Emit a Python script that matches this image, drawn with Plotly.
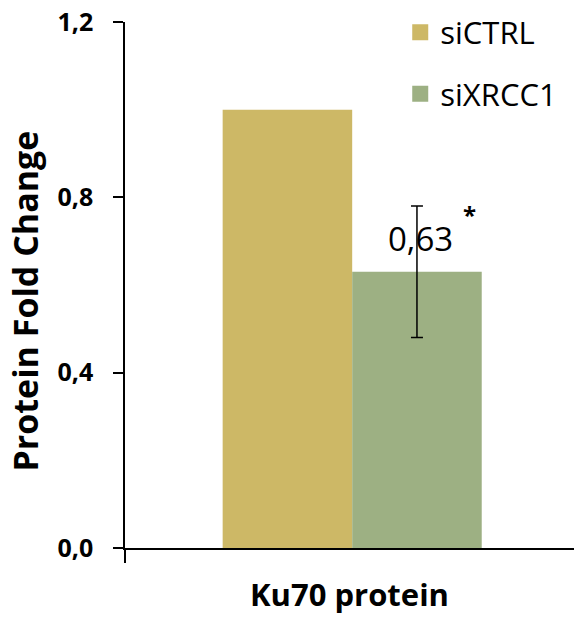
import plotly.graph_objects as go

categories = ["Ku70 protein"]
series_names = ["siCTRL", "siXRCC1"]
siCTRL_values = [1.0]
siXRCC1_values = [0.63]
siXRCC1_error = [0.15]
y_ticks = [0.0, 0.4, 0.8, 1.2]
y_title = "Protein Fold Change"
colors = ["#CDB866", "#9DB083"]

x_pos = [0]
FONT = "Open Sans, sans-serif"

fig = go.Figure()
fig.add_trace(go.Bar(x=x_pos, y=siCTRL_values, name=series_names[0], showlegend=False,
                     marker=dict(color=colors[0], line=dict(width=0))))
fig.add_trace(go.Bar(x=x_pos, y=siXRCC1_values, name=series_names[1], showlegend=False,
                     marker=dict(color=colors[1], line=dict(width=0)),
                     error_y=dict(type="data", array=siXRCC1_error, color="black",
                                  thickness=1.5, width=6)))
# legend entries (square swatches)
for name, col, grp in zip(series_names, colors, ["a", "b"]):
    fig.add_trace(go.Scatter(x=[None], y=[None], mode="markers", name=name, legendgroup=grp,
                             marker=dict(symbol="square", size=20, color=col)))

fig.add_annotation(x=0.152, y=0.707, xref="x", yref="y",
                   text="0,63", showarrow=False, font=dict(size=33, color="black", family=FONT))
fig.add_annotation(x=0.262, y=0.76, xref="x", yref="y",
                   text="<b>*</b>", showarrow=False, font=dict(size=24, color="black", family=FONT))
# y-axis title (placed like the reference, slightly below axis centre)
fig.add_annotation(x=-0.2227, y=0.4686, xref="paper", yref="paper", textangle=-90,
                   xanchor="center", yanchor="middle",
                   text="<b>" + y_title + "</b>", showarrow=False,
                   font=dict(size=34, color="black", family=FONT))

fig.update_layout(
    width=574, height=617,
    margin=dict(l=125, r=0, t=22, b=69),
    paper_bgcolor="white", plot_bgcolor="white",
    barmode="group", bargap=0.423, bargroupgap=0,
    separators=",.",
    font=dict(family=FONT, color="black"),
    showlegend=True,
    legend=dict(x=0.613, y=1.031, xanchor="left", yanchor="top",
                font=dict(size=31, family=FONT), tracegroupgap=18, itemsizing="trace",
                bgcolor="rgba(0,0,0,0)"),
    xaxis=dict(range=[-0.506, 0.494], tickvals=[-0.506], ticktext=[""],
               ticks="outside", ticklen=13, tickwidth=1.5, tickcolor="black",
               showline=True, linecolor="black", linewidth=1.5,
               showgrid=False, zeroline=False, automargin=False,
               title=dict(text="<b>" + categories[0] + "</b>", font=dict(size=31), standoff=20)),
    yaxis=dict(range=[0, 1.2], tickvals=y_ticks, tickformat=".1f",
               ticks="outside", ticklen=10, tickwidth=1.5, tickcolor="black",
               showline=True, linecolor="black", linewidth=1.5,
               showgrid=False, zeroline=False, automargin=False,
               ticklabelstandoff=15,
               tickfont=dict(size=25, weight="bold")),
)

fig.write_html("out.html", config={"displayModeBar": False},
               post_script="document.body.style.margin='0';document.body.style.overflow='hidden';")
